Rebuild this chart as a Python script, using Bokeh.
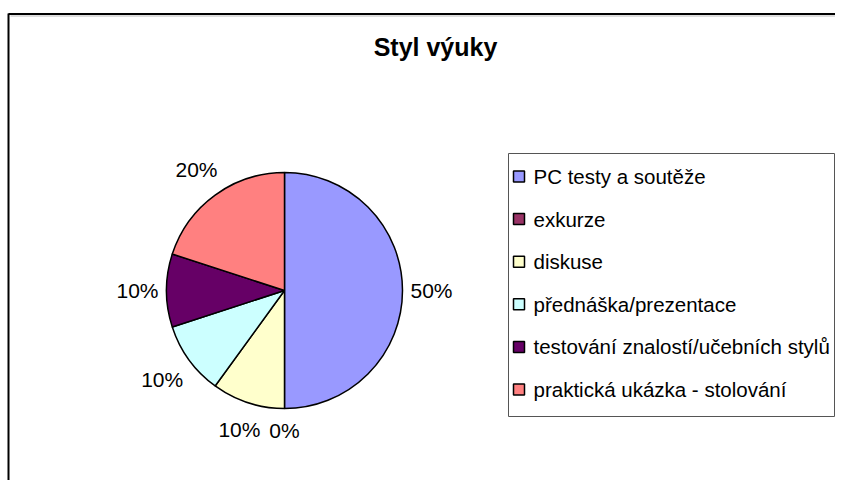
import math
from bokeh.plotting import figure
from bokeh.models import Range1d, ColumnDataSource
from bokeh.core.properties import value
from bokeh.embed import file_html
from bokeh.resources import INLINE

# ---- data ----
title = "Styl výuky"
categories = ["PC testy a soutěže", "exkurze", "diskuse", "přednáška/prezentace",
              "testování znalostí/učebních stylů", "praktická ukázka - stolování"]
shares = [50, 0, 10, 10, 10, 20]
colors = ["#9999FF", "#993366", "#FFFFCC", "#CCFFFF", "#660066", "#FF8080"]

W, H = 835, 480
FONT = "Liberation Sans"

def px(x):
    return x

def py(y):
    return H - y

p = figure(width=W, height=H, x_range=Range1d(0, W), y_range=Range1d(0, H),
           output_backend="svg", toolbar_location=None, min_border=0)
p.axis.visible = False
p.grid.visible = False
p.outline_line_color = None
p.background_fill_color = "white"
p.border_fill_color = "white"

# chart area frame (left + top edges visible)
p.line([8, 8], [py(13), -5], line_color="black", line_width=2)
p.line([8, W + 5], [py(13.5), py(13.5)], line_color="black", line_width=2)
p.line([10, W + 5], [py(15.5), py(15.5)], line_color="#bbbbbb", line_width=1)

# title
p.text([px(435)], [py(46)], text=[title], text_font=value(FONT), text_font_style="bold",
       text_font_size="25px", text_align="center", text_baseline="middle", text_color="black")

# pie
cx, cy, R = px(284), py(290), 118
total = float(sum(shares))
starts, ends, mids = [], [], []
cum = 0.0
for v in shares:
    a0 = math.pi / 2 - 2 * math.pi * cum / total
    cum += v
    a1 = math.pi / 2 - 2 * math.pi * cum / total
    starts.append(a0)
    ends.append(a1)
    mids.append((a0 + a1) / 2)

idx = [i for i, v in enumerate(shares) if v > 0]
src = ColumnDataSource(dict(
    start=[starts[i] for i in idx], end=[ends[i] for i in idx],
    color=[colors[i] for i in idx]))
p.wedge(x=cx, y=cy, radius=R, radius_units="screen", start_angle="start", end_angle="end",
        direction="clock", fill_color="color", line_color="black", line_width=1.5, source=src)

# data labels
lx, ly, lt = [], [], []
for i, v in enumerate(shares):
    dx, dy = math.cos(mids[i]), math.sin(mids[i])
    d = R + 8 + abs(dx) * 21 + abs(dy) * 14
    lx.append(cx + d * dx)
    ly.append(cy + d * dy)
    lt.append(f"{v}%")
p.text(lx, ly, text=lt, text_font=value(FONT), text_font_size="21px",
       text_align="center", text_baseline="middle", text_color="black")

# legend
p.quad(left=[px(508)], right=[px(834)], top=[py(153)], bottom=[py(416)],
       fill_color="white", line_color="#555555", line_width=1)
row0, step = 176, 42.6
ys = [py(row0 + k * step) for k in range(len(categories))]
p.rect(x=[px(518.5)] * len(categories), y=ys, width=11, height=11,
       width_units="screen", height_units="screen",
       fill_color=colors, line_color="black", line_width=1.5)
p.text([px(533)] * len(categories), ys, text=categories, text_font=value(FONT),
       text_font_size="20.5px", text_align="left", text_baseline="middle", text_color="black")

open("out.html", "w").write(file_html(p, INLINE))
